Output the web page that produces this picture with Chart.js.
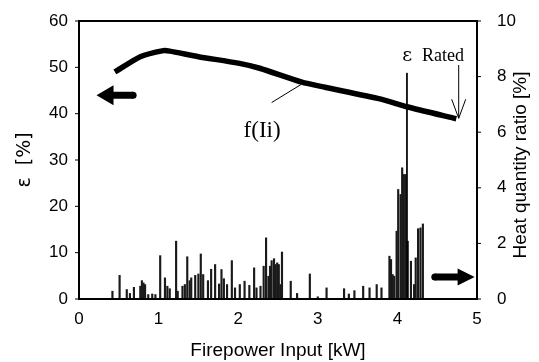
<!DOCTYPE html>
<html>
<head>
<meta charset="utf-8">
<script src="https://cdn.jsdelivr.net/npm/chart.js@4.4.0/dist/chart.umd.min.js"></script>
<style>
  html, body { margin: 0; padding: 0; background: #fff; }
  #wrap { width: 539px; height: 362px; }
</style>
</head>
<body>
<div id="wrap"><canvas id="chart" width="539" height="362"></canvas></div>
<script>
// efficiency curve (left axis, %)
const effX = [0.45, 0.77, 1.06, 1.14, 1.5, 2.0, 2.27, 2.8, 3.09, 3.78, 4.12, 4.74];
const effVal = [49.0, 52.3, 53.6, 53.5, 52.3, 50.9, 49.8, 46.8, 45.7, 43.2, 41.5, 38.9];

// heat quantity ratio bars (right axis, %)
const heatX = [0.42, 0.51, 0.60, 0.64, 0.69, 0.77, 0.79, 0.81, 0.83, 0.87, 0.92, 0.96,
  1.02, 1.08, 1.11, 1.14, 1.22, 1.24, 1.30, 1.33, 1.36, 1.39, 1.41, 1.46, 1.50, 1.53,
  1.56, 1.62, 1.66, 1.71, 1.76, 1.79, 1.82, 1.86, 1.92, 1.96, 2.02, 2.08, 2.14, 2.20,
  2.23, 2.28, 2.32, 2.35, 2.38, 2.40, 2.42, 2.45, 2.47, 2.49, 2.51, 2.53, 2.55, 2.66,
  2.74, 2.90, 3.00, 3.11, 3.33, 3.39, 3.46, 3.57, 3.65, 3.74, 3.80, 3.90, 3.92, 3.94,
  3.96, 3.99, 4.01, 4.04, 4.06, 4.08, 4.10, 4.13, 4.17, 4.21, 4.23, 4.26, 4.29, 4.32];
const heatRatio = [0.28, 0.85, 0.34, 0.2, 0.42, 0.46, 0.66, 0.58, 0.52, 0.16, 0.18, 0.16,
  1.56, 0.76, 0.46, 0.37, 2.08, 0.28, 0.46, 0.52, 1.52, 0.66, 0.76, 0.85, 0.9, 1.62,
  0.88, 0.66, 1.07, 1.24, 0.54, 1.06, 0.73, 0.52, 1.38, 0.40, 0.52, 0.64, 0.49, 1.12,
  0.40, 0.46, 1.18, 2.2, 0.82, 1.18, 1.38, 1.45, 1.24, 1.3, 1.24, 0.52, 1.69, 0.64,
  0.2, 0.9, 0.08, 0.40, 0.37, 0.18, 0.30, 0.46, 0.40, 0.52, 0.40, 1.54, 1.42, 0.88,
  0.82, 2.44, 3.94, 3.76, 4.72, 4.48, 4.48, 2.08, 1.36, 0.52, 1.48, 2.53, 2.56, 2.7];

// rated point marker line
const ratedX = [4.12, 4.12];
const ratedVal = [48.8, 0];

const xTicks = [0, 1, 2, 3, 4, 5];
const leftTicks = [0, 10, 20, 30, 40, 50, 60];
const rightTicks = [0, 2, 4, 6, 8, 10];

const sans = "'Liberation Sans', Arial, sans-serif";
const tickFont = { family: sans, size: 17 };

function arrow(ctx, tail, head, y, dir, half) {
  // thick block arrow, dir -1 = left, 1 = right
  ctx.save();
  ctx.fillStyle = "#000";
  ctx.beginPath();
  const hx = head - dir * 17;
  ctx.moveTo(tail, y - 3.5);
  ctx.lineTo(hx, y - 3.5);
  ctx.lineTo(hx, y - half);
  ctx.lineTo(head, y);
  ctx.lineTo(hx, y + half);
  ctx.lineTo(hx, y + 3.5);
  ctx.lineTo(tail, y + 3.5);
  ctx.closePath();
  ctx.fill();
  ctx.beginPath();
  ctx.arc(tail, y, 3.5, 0, Math.PI * 2);
  ctx.fill();
  ctx.restore();
}

const decor = {
  id: "decor",
  afterDraw(chart) {
    const { ctx, scales } = chart;
    const x = scales.x, y = scales.y, y2 = scales.y2;
    const L = x.getPixelForValue(0), R = x.getPixelForValue(5);
    const T = y.getPixelForValue(60), B = y.getPixelForValue(0);
    ctx.save();
    ctx.fillStyle = "#000";
    ctx.strokeStyle = "#000";

    // axis titles (both read bottom to top)
    ctx.textAlign = "center";
    ctx.textBaseline = "middle";
    ctx.save();
    ctx.translate(25, (T + B) / 2);
    ctx.rotate(-Math.PI / 2);
    ctx.font = "19px 'DejaVu Sans', sans-serif";
    ctx.fillText("ε  [%]", 0, 0);
    ctx.restore();
    ctx.save();
    ctx.translate(521, (T + B) / 2 + 5);
    ctx.rotate(-Math.PI / 2);
    ctx.font = "19px " + sans;
    ctx.fillText("Heat quantity ratio [%]", 0, 0);
    ctx.restore();

    // arrows pointing to the axes
    arrow(ctx, x.getPixelForValue(0.68), x.getPixelForValue(0.22), y.getPixelForValue(44), -1, 10);
    arrow(ctx, x.getPixelForValue(4.47), x.getPixelForValue(4.97), y2.getPixelForValue(0.79), 1, 8.5);

    // f(Ii) label and leader
    ctx.lineWidth = 1;
    ctx.beginPath();
    ctx.moveTo(x.getPixelForValue(2.42), y.getPixelForValue(42.4));
    ctx.lineTo(x.getPixelForValue(2.79), y.getPixelForValue(46.3));
    ctx.stroke();
    ctx.font = "23px 'Liberation Serif', 'Times New Roman', serif";
    ctx.fillText("f(Ii)", x.getPixelForValue(2.3), y.getPixelForValue(36.3));

    // rated arrow
    const rx = x.getPixelForValue(4.77);
    const top = y.getPixelForValue(50.5);
    const bot = y.getPixelForValue(39.0);
    ctx.beginPath();
    ctx.moveTo(rx, top);
    ctx.lineTo(rx, bot);
    ctx.moveTo(rx - 7, bot - 19);
    ctx.lineTo(rx, bot);
    ctx.lineTo(rx + 7, bot - 19);
    ctx.stroke();

    // ε Rated text
    ctx.textAlign = "left";
    ctx.textBaseline = "alphabetic";
    const ty = y.getPixelForValue(51.4);
    ctx.font = "19px 'DejaVu Serif', serif";
    ctx.fillText("ε", x.getPixelForValue(4.06), ty);
    ctx.font = "18px 'Liberation Serif', 'Times New Roman', serif";
    ctx.fillText("Rated", x.getPixelForValue(4.31), ty);

    // frame and small outward tick marks, drawn last
    ctx.fillRect(L - 1, T - 1, R - L + 2, 2);
    ctx.fillRect(L - 1, B - 1, R - L + 2, 2);
    ctx.fillRect(L - 1, T - 1, 2, B - T + 2);
    ctx.fillRect(R - 1, T - 1, 2, B - T + 2);
    ctx.lineWidth = 2;
    ctx.beginPath();
    ctx.moveTo(L, B);
    ctx.lineTo(L, T);
    ctx.lineTo(R, T);
    ctx.lineTo(R, B);
    ctx.closePath();
    ctx.stroke();
    leftTicks.forEach(v => ctx.fillRect(L - 4, y.getPixelForValue(v) - 0.5, 4, 1));
    rightTicks.forEach(v => ctx.fillRect(R, y2.getPixelForValue(v) - 0.5, 4, 1));
    ctx.restore();
  }
};

// invisible tick marks only reserve room between axis and labels
const spacer = len => ({ display: true, drawOnChartArea: false, drawTicks: true, tickLength: len, color: "rgba(0,0,0,0)" });
const axisLine = { display: true, color: "#000", width: 2 };

new Chart(document.getElementById("chart"), {
  type: "bar",
  data: {
    datasets: [
      {
        type: "line",
        label: "f(Ii)",
        data: effX.map((v, i) => ({ x: v, y: effVal[i] })),
        yAxisID: "y",
        borderColor: "#000",
        borderWidth: 5.5,
        pointRadius: 0,
        tension: 0.2,
        borderCapStyle: "butt"
      },
      {
        type: "line",
        label: "rated",
        data: ratedX.map((v, i) => ({ x: v, y: ratedVal[i] })),
        yAxisID: "y",
        borderColor: "#000",
        borderWidth: 1,
        pointRadius: 0
      },
      {
        label: "Heat quantity ratio",
        data: heatX.map((v, i) => ({ x: v, y: heatRatio[i] })),
        yAxisID: "y2",
        backgroundColor: "#1a1a1a",
        barThickness: 1.5
      }
    ]
  },
  options: {
    responsive: false,
    animation: false,
    layout: { padding: { top: 21, left: 0, right: 0, bottom: 0 } },
    plugins: { legend: { display: false }, tooltip: { enabled: false } },
    scales: {
      x: {
        type: "linear",
        min: 0,
        max: 5,
        offset: false,
        afterFit: s => { s.height = 63; },
        afterBuildTicks: s => { s.ticks = xTicks.map(v => ({ value: v })); },
        grid: spacer(6),
        border: axisLine,
        ticks: { color: "#000", font: tickFont, padding: 4 },
        title: {
          display: true,
          text: "Firepower Input [kW]",
          color: "#000",
          font: { family: sans, size: 19 },
          padding: { top: 9, bottom: 0 }
        }
      },
      y: {
        position: "left",
        min: 0,
        max: 60,
        afterFit: s => { s.width = 79; },
        afterBuildTicks: s => { s.ticks = leftTicks.map(v => ({ value: v })); },
        grid: spacer(7),
        border: axisLine,
        ticks: { color: "#000", font: tickFont, padding: 4 }
      },
      y2: {
        position: "right",
        min: 0,
        max: 10,
        afterFit: s => { s.width = 62; },
        afterBuildTicks: s => { s.ticks = rightTicks.map(v => ({ value: v })); },
        grid: spacer(14),
        border: axisLine,
        ticks: { color: "#000", font: tickFont, padding: 6 }
      }
    }
  },
  plugins: [decor]
});
</script>
</body>
</html>
